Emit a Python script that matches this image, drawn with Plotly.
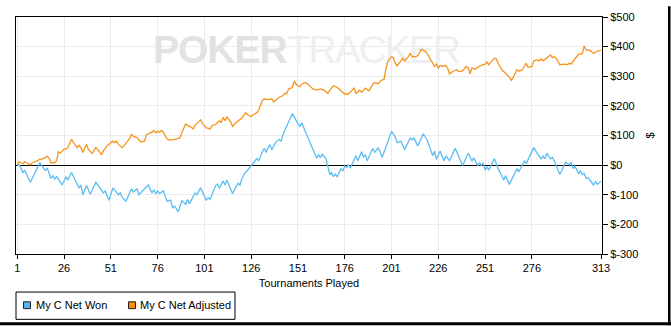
import plotly.graph_objects as go

# ---- data -------------------------------------------------------------
series_names = ["My C Net Won", "My C Net Adjusted"]
series_colors = ["#5cbdf3", "#f7941d"]
legend_swatch_colors = ["#4fb6f2", "#ff8c00"]

# Net won: tournament number / running total ($)
won_t = [1, 2, 4, 5, 8, 13, 16, 17, 19, 20, 21, 22, 25, 27, 28, 30, 34, 35, 36, 38,
         40, 43, 47, 48, 50, 52, 53, 55, 56, 57, 59, 62, 63, 65, 66, 71, 73, 74, 75, 76,
         77, 79, 81, 83, 84, 85, 87, 89, 91, 92, 93, 96, 97, 99, 102, 103, 104, 107, 108, 109,
         111, 112, 113, 116, 119, 120, 121, 123, 124, 125, 126, 128, 129, 130, 131, 132, 133, 134, 135, 136,
         137, 139, 141, 142, 143, 148, 151, 152, 153, 155, 161, 162, 163, 164, 166, 168, 169, 170, 171, 172,
         174, 175, 176, 177, 178, 179, 180, 182, 183, 185, 186, 187, 188, 190, 191, 192, 194, 196, 201, 203,
         204, 206, 208, 211, 212, 213, 215, 218, 220, 223, 224, 225, 227, 229, 230, 232, 235, 236, 239, 242,
         244, 245, 247, 248, 249, 250, 251, 252, 253, 256, 258, 261, 262, 264, 268, 269, 272, 273, 277, 279,
         281, 282, 283, 284, 286, 287, 288, 291, 294, 296, 297, 298, 299, 301, 302, 303, 304, 305, 306, 309,
         310, 311, 313]
won_v = [-3, 2, -25, -18, -58, 8, -18, -10, -45, -36, -47, -39, -67, -39, -50, -25, -78, -67, -100, -69,
         -98, -58, -94, -87, -119, -78, -83, -100, -94, -108, -122, -80, -91, -80, -100, -67, -94, -83, -96, -87,
         -96, -87, -122, -118, -145, -138, -158, -119, -133, -116, -130, -94, -100, -76, -119, -110, -116, -69, -64, -78,
         -54, -67, -50, -96, -61, -67, -47, -23, -18, -10, -1, 15, 22, 15, 32, 45, 56, 43, 59, 69,
         52, 76, 87, 80, 103, 174, 140, 130, 143, 114, 23, 35, 25, 37, 21, -32, -25, -39, -30, -39,
         -12, -20, -3, -8, 2, -10, 4, 32, 15, 45, 28, 35, 15, 42, 56, 43, 59, 26, 114, 95,
         76, 81, 52, 92, 85, 92, 65, 106, 85, 32, 48, 19, 48, 15, 31, 15, 57, 43, -1, 40,
         15, 23, -1, 8, -1, 8, -17, -6, -17, 22, -12, -50, -36, -65, -12, -23, 15, 5, 59, 39,
         21, 30, 21, 40, 21, 26, 15, -32, 10, 1, 10, -12, -3, -29, -20, -31, -28, -45, -42, -67,
         -56, -65, -54]

# Net adjusted: tournament number / running total ($)
adj_t = [1, 2, 4, 5, 6, 8, 9, 10, 12, 13, 14, 15, 17, 18, 19, 21, 22, 23, 24, 26,
         27, 28, 29, 30, 31, 33, 34, 35, 36, 37, 38, 39, 41, 43, 45, 46, 47, 49, 51, 52,
         53, 54, 55, 57, 58, 59, 61, 62, 63, 65, 66, 67, 69, 70, 72, 73, 74, 75, 76, 77,
         78, 79, 81, 82, 84, 85, 86, 88, 89, 90, 91, 93, 94, 95, 96, 98, 99, 100, 102, 104,
         105, 107, 109, 110, 111, 112, 113, 115, 116, 118, 120, 121, 123, 124, 126, 127, 129, 130, 132, 133,
         135, 137, 138, 140, 141, 143, 144, 145, 146, 148, 149, 150, 152, 153, 155, 156, 157, 159, 161, 163,
         165, 167, 168, 170, 172, 173, 174, 176, 178, 179, 181, 182, 184, 185, 187, 189, 190, 191, 192, 194,
         195, 197, 198, 199, 201, 202, 203, 204, 206, 207, 208, 210, 211, 212, 214, 215, 217, 219, 220, 221,
         222, 224, 225, 226, 227, 228, 230, 231, 232, 234, 236, 237, 239, 241, 242, 243, 244, 246, 247, 249,
         251, 252, 253, 255, 256, 257, 258, 260, 262, 264, 265, 266, 268, 269, 271, 273, 274, 276, 277, 279,
         280, 281, 282, 284, 286, 287, 288, 289, 291, 293, 295, 296, 297, 299, 301, 303, 304, 305, 307, 309,
         311, 313]
adj_v = [1, 12, 4, 12, 8, 1, 8, 10, 15, 21, 19, 23, 30, 23, 8, 8, 15, 45, 41, 54,
         54, 59, 72, 87, 76, 59, 67, 59, 43, 59, 70, 52, 40, 59, 45, 34, 48, 65, 78, 81,
         76, 81, 70, 59, 65, 74, 89, 103, 98, 92, 85, 78, 81, 103, 109, 111, 117, 109, 114, 111,
         117, 111, 89, 85, 85, 87, 89, 92, 111, 126, 139, 131, 128, 122, 135, 146, 153, 140, 126, 122,
         133, 137, 150, 144, 161, 150, 163, 146, 131, 144, 155, 159, 177, 170, 164, 170, 177, 186, 218, 224,
         221, 224, 213, 224, 229, 235, 243, 241, 257, 262, 284, 273, 264, 273, 279, 275, 268, 257, 253, 257,
         253, 242, 253, 268, 262, 257, 251, 240, 240, 246, 260, 242, 253, 246, 260, 251, 264, 273, 279, 275,
         284, 290, 323, 350, 366, 363, 344, 335, 352, 361, 352, 366, 377, 366, 366, 369, 391, 384, 377, 366,
         350, 333, 341, 326, 337, 333, 337, 328, 308, 317, 322, 315, 319, 333, 328, 308, 328, 324, 330, 337,
         341, 348, 339, 352, 361, 359, 344, 322, 311, 297, 286, 295, 322, 317, 322, 344, 330, 333, 352, 355,
         352, 359, 352, 361, 372, 363, 366, 361, 339, 341, 339, 344, 341, 359, 374, 377, 402, 388, 388, 377,
         385, 388]

x_tick_vals = [1, 26, 51, 76, 101, 126, 151, 176, 201, 226, 251, 276, 313]
y_tick_vals = [500, 400, 300, 200, 100, 0, -100, -200, -300]
y_tick_text = ["$500", "$400", "$300", "$200", "$100", "$0", "$-100", "$-200", "$-300"]

x_title = "Tournaments Played"
y_title = "$"
watermark = ("<b><span style='color:#e2e2e2;letter-spacing:-1px'>POKER</span></b>"
             "<span style='color:#efefef;letter-spacing:-2px'>TRACKER</span>")

# ---- canvas geometry (pixels) ----------------------------------------
W, H = 671, 327
ML, MR, MT, MB = 16, 69, 11, 73
PW, PH = W - ML - MR, H - MT - MB
X_RANGE = [0.3, 313.5]
Y_RANGE = [-300, 500]


def fx(px):
    """pixel column -> paper x"""
    return (px - ML) / PW


def fy(py):
    """pixel row -> paper y"""
    return (H - MB - py) / PH


FONT = "Liberation Sans, Arial, sans-serif"

fig = go.Figure()

# faint brand watermark, drawn first so the lines sit on top of it
wm_x = X_RANGE[0] + fx(306) * (X_RANGE[1] - X_RANGE[0])
wm_y = Y_RANGE[0] + fy(48) * (Y_RANGE[1] - Y_RANGE[0])
fig.add_trace(go.Scatter(x=[wm_x], y=[wm_y], mode="text", text=[watermark],
                         textposition="middle center", hoverinfo="skip", showlegend=False,
                         textfont=dict(family="Liberation Sans, Arial, sans-serif",
                                       size=39, color="#e4e4e4")))

fig.add_trace(go.Scatter(x=won_t, y=won_v, mode="lines", name=series_names[0],
                         line=dict(color=series_colors[0], width=1.3), showlegend=False))
fig.add_trace(go.Scatter(x=adj_t, y=adj_v, mode="lines", name=series_names[1],
                         line=dict(color=series_colors[1], width=1.3), showlegend=False))

shapes = []
annotations = []

# legend panel below the chart
shapes.append(dict(type="rect", xref="paper", yref="paper",
                   x0=fx(16), x1=fx(235), y0=fy(321), y1=fy(293),
                   line=dict(color="black", width=1), fillcolor="white"))
swatch_x = [23.5, 128.5]
text_x = [34, 138]
for name, col, sx, tx in zip(series_names, legend_swatch_colors, swatch_x, text_x):
    shapes.append(dict(type="rect", xref="paper", yref="paper",
                       x0=fx(sx), x1=fx(sx + 7), y0=fy(310), y1=fy(303),
                       line=dict(color="#222222", width=1), fillcolor=col))
    annotations.append(dict(xref="paper", yref="paper", x=fx(tx), y=fy(306.5),
                            xanchor="left", yanchor="middle", text=name, showarrow=False,
                            font=dict(family=FONT, size=11, color="black")))

# heavy frame along the right and bottom edges
shapes.append(dict(type="rect", xref="paper", yref="paper",
                   x0=fx(668), x1=fx(670.5), y0=fy(H), y1=fy(0),
                   line=dict(width=0), fillcolor="black"))
shapes.append(dict(type="rect", xref="paper", yref="paper",
                   x0=fx(0), x1=fx(W), y0=fy(H), y1=fy(324),
                   line=dict(width=0), fillcolor="black"))

fig.update_layout(
    width=W, height=H,
    margin=dict(l=ML, r=MR, t=MT, b=MB, pad=0),
    paper_bgcolor="white", plot_bgcolor="white",
    font=dict(family=FONT, size=11, color="black"),
    showlegend=False,
    shapes=shapes, annotations=annotations,
    xaxis=dict(range=X_RANGE, tickvals=x_tick_vals, ticktext=[str(v) for v in x_tick_vals],
               showgrid=True, gridcolor="#ebebeb", gridwidth=1,
               showline=True, linecolor="black", linewidth=1, mirror=True,
               ticks="outside", ticklen=4, tickcolor="black", zeroline=False,
               title=dict(text=x_title, standoff=6, font=dict(size=11))),
    yaxis=dict(range=Y_RANGE, side="right", tickvals=y_tick_vals, ticktext=y_tick_text,
               showgrid=True, gridcolor="#ebebeb", gridwidth=1,
               showline=True, linecolor="black", linewidth=1, mirror=True,
               ticks="outside", ticklen=5, tickcolor="black",
               zeroline=True, zerolinecolor="black", zerolinewidth=1,
               title=dict(text=y_title, standoff=8, font=dict(size=11))),
)

fig.write_html("out.html")
